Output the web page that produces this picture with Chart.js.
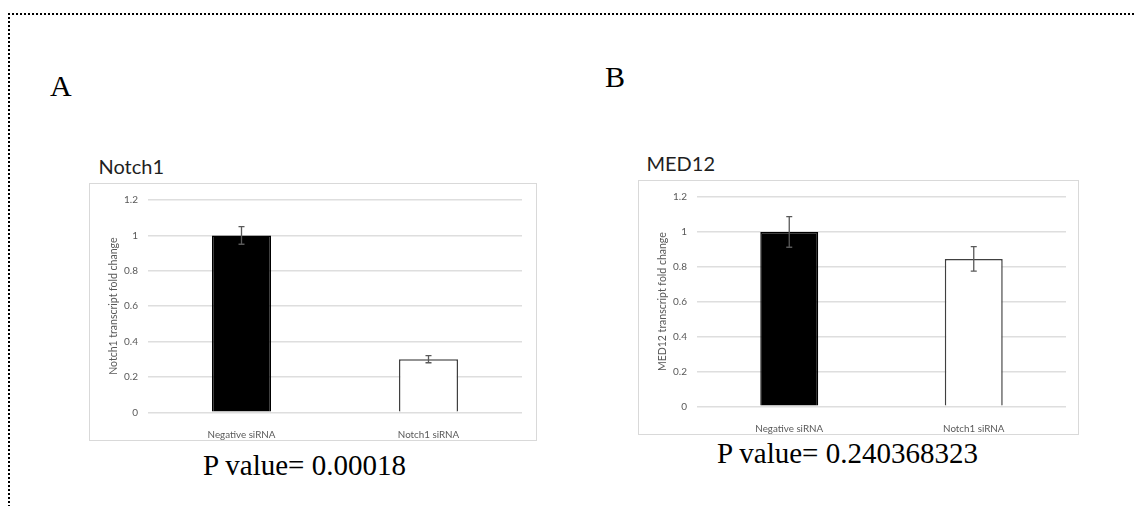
<!DOCTYPE html>
<html>
<head>
<meta charset="utf-8">
<script src="https://cdn.jsdelivr.net/npm/chart.js@4.4.0/dist/chart.umd.min.js"></script>
<style>
  body { margin:0; width:1135px; height:506px; background:#fff; position:relative; overflow:hidden; }
  .frame { position:absolute; left:8px; top:13px; width:1200px; height:600px; border-top:2px dotted #000; border-left:2px dotted #000; }
  .serif { position:absolute; font-family:"Liberation Serif","Times New Roman",serif; color:#000; line-height:1; white-space:nowrap; }
  .ttl { position:absolute; font-family:Lato, sans-serif; font-size:20px; line-height:20px; color:#1f1f1f; white-space:nowrap; }
  .box { position:absolute; border:1px solid #d9d9d9; }
  .box canvas { display:block; }
</style>
</head>
<body>
<div class="frame"></div>

<div class="serif" style="left:50px; top:71px; font-size:30px;">A</div>
<div class="serif" style="left:605px; top:62px; font-size:30px;">B</div>

<div class="ttl" style="left:98.5px; top:155.5px;">Notch1</div>
<div class="box" style="left:89px; top:183px; width:446px; height:256px;"><canvas id="graph_notch1"></canvas></div>
<div class="serif" style="left:203px; top:450.5px; font-size:29px;">P value= 0.00018</div>

<div class="ttl" style="left:646.5px; top:153px;">MED12</div>
<div class="box" style="left:638px; top:180px; width:439px; height:253px;"><canvas id="graph_med12"></canvas></div>
<div class="serif" style="left:717px; top:438.5px; font-size:29px;">P value= 0.240368323</div>

<script>
// data
const categories = ['Negative siRNA', 'Notch1 siRNA']
const yTicks = [0, 0.2, 0.4, 0.6, 0.8, 1, 1.2]

const notch1Values = [1.0, 0.30]
const notch1Errors = [0.05, 0.02]

const med12Values = [1.0, 0.845]
const med12Errors = [0.088, 0.07]

const textGray = '#595959'
const gridGray = '#dedede'

// draws the +/- error whiskers on top of the bars
const errorBars = {
  id: 'errorBars',
  afterDatasetsDraw(chart, args, opts) {
    const ctx = chart.ctx
    const y = chart.scales.y
    const meta = chart.getDatasetMeta(0)
    const values = chart.data.datasets[0].data
    ctx.save()
    ctx.strokeStyle = textGray
    ctx.lineWidth = 1.3
    meta.data.forEach(function(bar, i) {
      const top = y.getPixelForValue(values[i] + opts.errors[i])
      const bot = y.getPixelForValue(values[i] - opts.errors[i])
      const cap = 3
      ctx.beginPath()
      ctx.moveTo(bar.x, top); ctx.lineTo(bar.x, bot)
      ctx.moveTo(bar.x - cap, top); ctx.lineTo(bar.x + cap, top)
      ctx.moveTo(bar.x - cap, bot); ctx.lineTo(bar.x + cap, bot)
      ctx.stroke()
    })
    ctx.restore()
  }
}

function makeChart(id, yTitle, values, errors, pad) {
  return new Chart(document.getElementById(id), {
    type: 'bar',
    data: {
      labels: categories,
      datasets: [{
        data: values,
        backgroundColor: ['#000000', '#ffffff'],
        borderColor: ['#000000', '#404040'],
        borderWidth: 1.5,
        borderSkipped: 'bottom',
        categoryPercentage: 1,
        barPercentage: pad.bar
      }]
    },
    options: {
      responsive: true,
      maintainAspectRatio: false,
      animation: false,
      layout: { padding: { left: 0, top: pad.top, right: pad.right, bottom: 0 } },
      plugins: {
        legend: { display: false },
        tooltip: { enabled: false },
        errorBars: { errors: errors }
      },
      scales: {
        x: {
          grid: { display: false },
          border: { display: false },
          ticks: { color: textGray, padding: 8.5, font: { family: 'Lato', size: 9.8 } },
          afterFit: function(s) { s.height = pad.bottom }
        },
        y: {
          min: 0,
          max: 1.2,
          afterBuildTicks: function(s) { s.ticks = yTicks.map(function(v) { return { value: v } }) },
          grid: { color: gridGray, lineWidth: 1.5, drawTicks: false },
          border: { display: false },
          ticks: {
            color: textGray, padding: 10, font: { family: 'Lato', size: 10 },
            callback: function(v) { return String(v) }
          },
          title: {
            display: true, text: yTitle, color: textGray,
            font: { family: 'Lato', size: 10.5 }, padding: { top: 17.7, bottom: 0 }
          },
          afterFit: function(s) { s.width = 58 }
        }
      }
    },
    plugins: [errorBars]
  })
}

makeChart('graph_notch1', 'Notch1 transcript fold change', notch1Values, notch1Errors,
  { top: 13.7, right: 14, bottom: 27.7, bar: 0.316 })
makeChart('graph_med12', 'MED12 transcript fold change', med12Values, med12Errors,
  { top: 12.7, right: 12, bottom: 27.7, bar: 0.314 })
</script>
</body>
</html>
